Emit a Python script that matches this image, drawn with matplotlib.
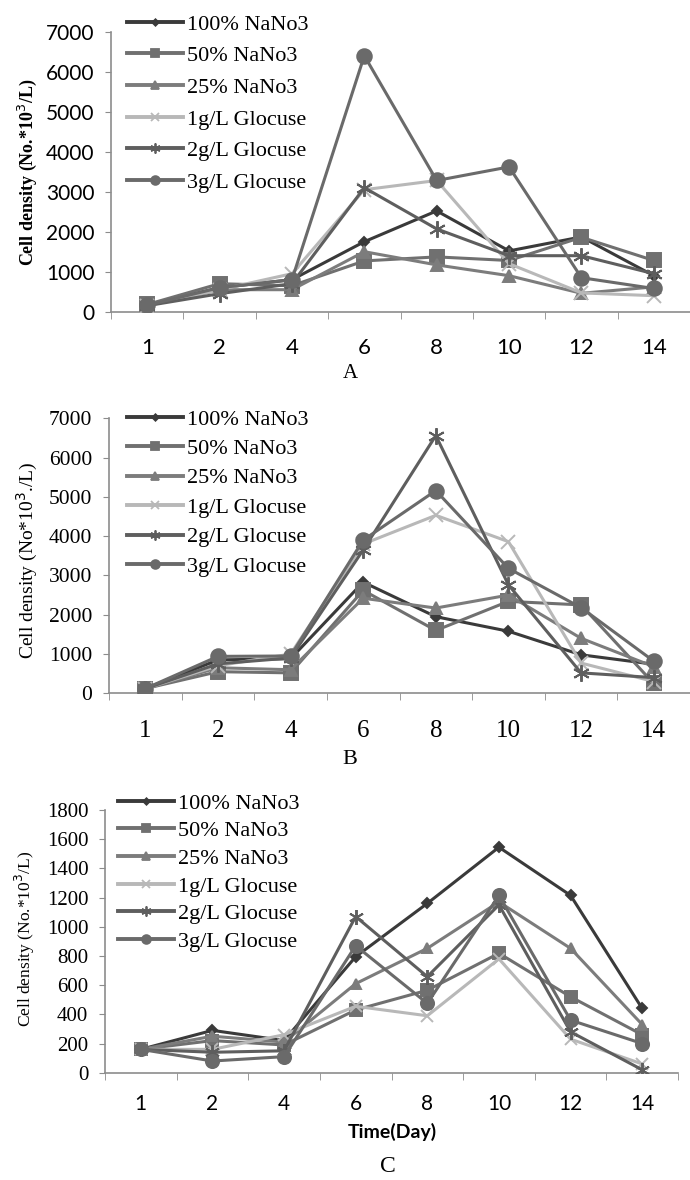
import matplotlib
matplotlib.use("Agg")
import matplotlib.pyplot as plt
from matplotlib.lines import Line2D
import numpy as np

W, H = 690, 1180
SERIF = "Liberation Serif"
SANS = "Lato"

days = ["1", "2", "4", "6", "8", "10", "12", "14"]
names = ["100% NaNo3", "50% NaNo3", "25% NaNo3",
         "1g/L Glocuse", "2g/L Glocuse", "3g/L Glocuse"]

# ── panel A ──
a_100 = [170, 600, 800, 1750, 2520, 1520, 1870, 900]
a_50 = [180, 700, 650, 1270, 1370, 1280, 1860, 1280]
a_25 = [150, 550, 550, 1500, 1170, 900, 460, 620]
a_1g = [150, 550, 950, 3050, 3280, 1200, 470, 400]
a_2g = [150, 450, 700, 3100, 2070, 1400, 1400, 950]
a_3g = [160, 600, 800, 6400, 3280, 3620, 850, 580]

# ── panel B ──
b_100 = [120, 850, 880, 2830, 1950, 1580, 980, 740]
b_50 = [120, 550, 520, 2620, 1600, 2340, 2250, 250]
b_25 = [120, 650, 600, 2420, 2170, 2500, 1400, 680]
b_1g = [120, 700, 1000, 3800, 4530, 3860, 770, 300]
b_2g = [120, 750, 900, 3650, 6560, 2760, 520, 400]
b_3g = [120, 940, 950, 3900, 5160, 3180, 2180, 820]

# ── panel C ──
c_100 = [160, 290, 220, 795, 1160, 1545, 1215, 440]
c_50 = [160, 220, 190, 430, 565, 818, 520, 260]
c_25 = [160, 250, 210, 610, 852, 1170, 852, 330]
c_1g = [160, 160, 260, 455, 390, 780, 230, 60]
c_2g = [160, 140, 150, 1070, 658, 1150, 280, 20]
c_3g = [160, 80, 110, 870, 475, 1215, 360, 200]

# grey levels / markers per series (Excel greyscale look)
colors = ["#3a3a3a", "#707070", "#7c7c7c", "#b8b8b8", "#5e5e5e", "#6a6a6a"]
markers = ["D", "s", "^", "x", (6, 2, 0), "o"]
msizes = [5.5, 10, 8.5, 9.5, 12, 10.5]


def px_box(left, top, right, bottom):
    return [left / W, 1 - bottom / H, (right - left) / W, (bottom - top) / H]


def draw_panel(ax, series, ymax, ystep, ytick_font, ytick_size,
               xtick_font, xtick_size, xpad, leg_left, leg_top, leg_space,
               mscale=1.0):
    x = np.arange(len(days))
    for vals, name, c, m, ms in zip(series, names, colors, markers, msizes):
        ax.plot(x, vals, color=c, lw=2.2, marker=m, ms=ms * mscale,
                mfc=c, mec=c, mew=1.4, label=name, zorder=3)

    ax.set_xlim(-0.5, len(days) - 0.5)
    ax.set_ylim(0, ymax)
    ax.set_yticks(np.arange(0, ymax + 1, ystep))
    ax.set_xticks(x)
    ax.set_xticklabels(days)
    ax.set_xticks(np.arange(-0.5, len(days), 1.0), minor=True)
    ax.tick_params(axis="x", which="major", length=0, pad=xpad)
    ax.tick_params(axis="x", which="minor", length=5, color="#8c8c8c", direction="out")
    ax.tick_params(axis="y", length=4, color="#8c8c8c", direction="out", pad=8)
    for lab in ax.get_yticklabels():
        lab.set_fontfamily(ytick_font)
        lab.set_fontsize(ytick_size)
    for lab in ax.get_xticklabels():
        lab.set_fontfamily(xtick_font)
        lab.set_fontsize(xtick_size)
    ax.spines[["top", "right"]].set_visible(False)
    for s in ("left", "bottom"):
        ax.spines[s].set_color("#8c8c8c")
        ax.spines[s].set_linewidth(1.2)
    ax.patch.set_alpha(0)

    handles = [Line2D([], [], color=c, lw=2.8, marker=m, ms=ms * 0.6,
                      mfc=c, mec=c, mew=1.3)
               for c, m, ms in zip(colors, markers, msizes)]
    leg = ax.legend(handles, names, loc="upper left",
                    bbox_to_anchor=(leg_left / W, 1 - leg_top / H),
                    bbox_transform=fig.transFigure, frameon=False,
                    prop={"family": SERIF, "size": 16},
                    handlelength=2.5, handletextpad=0.2,
                    labelspacing=leg_space, borderpad=0, borderaxespad=0)
    leg.set_zorder(5)


fig = plt.figure(figsize=(W / 100, H / 100), dpi=100)

# A
axA = fig.add_axes(px_box(111, 31.7, 690, 311.7))
draw_panel(axA, [a_100, a_50, a_25, a_1g, a_2g, a_3g], 7000, 1000,
           SANS, 15, SANS, 16, 19, 127, 14, 0.5)
fig.text(27 / W, 1 - 172 / H, "Cell density (No.*10$^3$/L)", rotation=90,
         ha="center", va="center", family=SERIF, fontsize=13, fontweight="bold")
fig.text(350 / W, 1 - 373 / H, "A", ha="center", va="center",
         family=SERIF, fontsize=15)

# B
axB = fig.add_axes(px_box(109, 418.3, 690, 693.3))
draw_panel(axB, [b_100, b_50, b_25, b_1g, b_2g, b_3g], 7000, 1000,
           SERIF, 15.5, SERIF, 18, 19, 127, 409, 0.4)
fig.text(27 / W, 1 - 560 / H, "Cell density (No*10$^3$./L)", rotation=90,
         ha="center", va="center", family=SERIF, fontsize=14)
fig.text(350 / W, 1 - 760 / H, "B", ha="center", va="center",
         family=SERIF, fontsize=16)

# C
axC = fig.add_axes(px_box(105, 810, 678, 1072.7))
draw_panel(axC, [c_100, c_50, c_25, c_1g, c_2g, c_3g], 1800, 200,
           SERIF, 15, SANS, 15, 15, 118, 793, 0.32, mscale=0.9)
fig.text(25 / W, 1 - 939 / H, "Cell density (No.*10$^3$/L)", rotation=90,
         ha="center", va="center", family=SERIF, fontsize=12.5)
fig.text(392 / W, 1 - 1132 / H, "Time(Day)", ha="center", va="center",
         family=SANS, fontsize=14, fontweight="bold")
fig.text(388 / W, 1 - 1166 / H, "C", ha="center", va="center",
         family=SERIF, fontsize=17)

fig.savefig("out.png", dpi=100)
